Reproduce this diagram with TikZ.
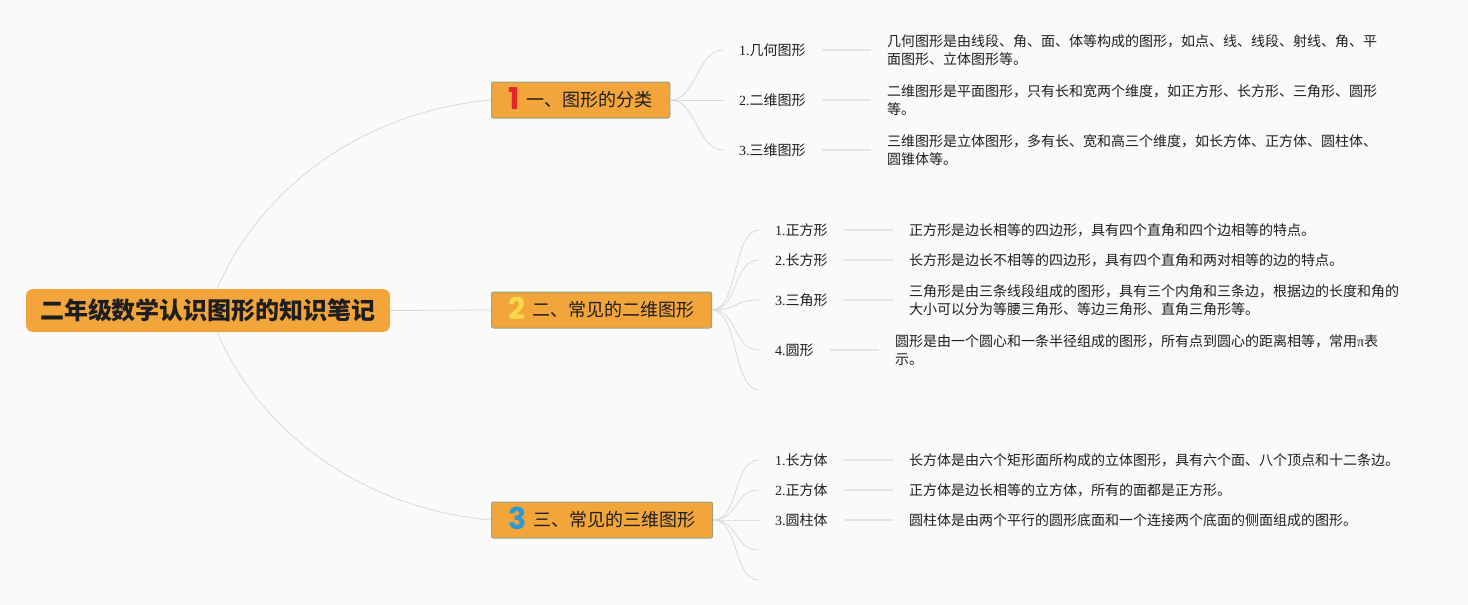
\documentclass[tikz,border=0pt]{standalone}
\usepackage{fontspec}
\setmainfont{Liberation Serif}
\newfontfamily\cjk{Noto Sans CJK SC}
\newfontfamily\numfont{Poppins}
\usetikzlibrary{positioning}
\definecolor{mmBack}{HTML}{FAFAFA}
\definecolor{mmOrange}{HTML}{F2A53A}
\definecolor{mmEdge}{HTML}{93A886}
\definecolor{mmInk}{HTML}{1E1E1E}
\definecolor{mmLine}{HTML}{D9D9D9}
\definecolor{mmStub}{HTML}{E6E6E6}
\definecolor{numRed}{HTML}{E3262B}
\definecolor{numYellow}{HTML}{F6D94A}
\definecolor{numBlue}{HTML}{2C9AD6}
\tikzset{
  rootbox/.style  = {fill=mmOrange, rounded corners=7pt, inner xsep=14pt,
                     minimum height=43pt, text=mmInk,
                     font=\cjk\bfseries\fontsize{24}{28}\selectfont},
  topicbox/.style = {draw=mmEdge, line width=1pt, fill=mmOrange,
                     rounded corners=2pt, anchor=west, minimum height=36pt,
                     inner xsep=17pt, inner ysep=0pt, text=mmInk,
                     font=\cjk\fontsize{18}{22}\selectfont},
  leaf/.style     = {anchor=west, inner xsep=16pt, inner ysep=2pt, text=mmInk,
                     font=\fontsize{14}{18}\selectfont},
  note/.style     = {inner xsep=16pt, inner ysep=0pt, align=left, text=mmInk,
                     font=\cjk\fontsize{14}{18.5}\selectfont},
  link/.style     = {mmLine, line width=0.8pt},
  stub/.style     = {mmStub, line width=1.6pt},
}
\newcommand{\bnum}[2]{\smash{\raisebox{-3pt}{\numfont\bfseries\fontsize{30}{30}\selectfont\color{#1}#2}}\hspace{7pt}}

\begin{document}
\begin{tikzpicture}[x=1pt, y=-1pt]
\useasboundingbox (0,0) rectangle (1468,605);
\fill[mmBack] (0,0) rectangle (1468,605);

% root and main topics
\node[rootbox] (root) at (208,310.5) {二年级数学认识图形的知识笔记};
\node[topicbox] (b1) at (491,100) {\bnum{numRed}{1}一、图形的分类};
\node[topicbox] (b2) at (491,310) {\bnum{numYellow}{2}二、常见的二维图形};
\node[topicbox] (b3) at (491,520) {\bnum{numBlue}{3}三、常见的三维图形};

% topic 1
\node[leaf] (g1) at (723,50)  {1.{\cjk 几何图形}};
\node[leaf] (g2) at (723,100) {2.{\cjk 二维图形}};
\node[leaf] (g3) at (723,150) {3.{\cjk 三维图形}};
\node[note, right=49pt of g1] (g1n) {几何图形是由线段、角、面、体等构成的图形，如点、线、线段、射线、角、平\\面图形、立体图形等。};
\node[note, right=49pt of g2] (g2n) {二维图形是平面图形，只有长和宽两个维度，如正方形、长方形、三角形、圆形\\等。};
\node[note, right=49pt of g3] (g3n) {三维图形是立体图形，多有长、宽和高三个维度，如长方体、正方体、圆柱体、\\圆锥体等。};

% topic 2
\node[leaf] (s1) at (759,230) {1.{\cjk 正方形}};
\node[leaf] (s2) at (759,260) {2.{\cjk 长方形}};
\node[leaf] (s3) at (759,300) {3.{\cjk 三角形}};
\node[leaf] (s4) at (759,350) {4.{\cjk 圆形}};
\coordinate (s5) at (759,390);
\node[note, right=49pt of s1] (s1n) {正方形是边长相等的四边形，具有四个直角和四个边相等的特点。};
\node[note, right=49pt of s2] (s2n) {长方形是边长不相等的四边形，具有四个直角和两对相等的边的特点。};
\node[note, right=49pt of s3] (s3n) {三角形是由三条线段组成的图形，具有三个内角和三条边，根据边的长度和角的\\大小可以分为等腰三角形、等边三角形、直角三角形等。};
\node[note, right=49pt of s4] (s4n) {圆形是由一个圆心和一条半径组成的图形，所有点到圆心的距离相等，常用{\rmfamily π}表\\示。};

% topic 3
\node[leaf] (t1) at (759,460) {1.{\cjk 长方体}};
\node[leaf] (t2) at (759,490) {2.{\cjk 正方体}};
\node[leaf] (t3) at (759,520) {3.{\cjk 圆柱体}};
\coordinate (t4) at (759,550);
\coordinate (t5) at (759,580);
\node[note, right=49pt of t1] (t1n) {长方体是由六个矩形面所构成的立体图形，具有六个面、八个顶点和十二条边。};
\node[note, right=49pt of t2] (t2n) {正方体是边长相等的立方体，所有的面都是正方形。};
\node[note, right=49pt of t3] (t3n) {圆柱体是由两个平行的圆形底面和一个连接两个底面的侧面组成的图形。};

% connectors
\draw[link] ([xshift=9pt]root.north) .. controls +(43,-99) and +(-131,12) .. (b1.west);
\draw[link] (root.east) -- (b2.west);
\draw[link] ([xshift=9pt]root.south) .. controls +(43,99) and +(-131,-12) .. (b3.west);
\foreach \l in {g1,g2,g3}
  \draw[link] (b1.east) .. controls +(26,0) and +(-26,0) .. (\l.west);
\foreach \l in {s1,s2,s3,s4}
  \draw[link] (b2.east) .. controls +(26,0) and +(-26,0) .. (\l.west);
\draw[link] (b2.east) .. controls +(26,0) and +(-26,0) .. (s5);
\foreach \l in {t1,t2,t3}
  \draw[link] (b3.east) .. controls +(26,0) and +(-26,0) .. (\l.west);
\foreach \l in {t4,t5}
  \draw[link] (b3.east) .. controls +(26,0) and +(-26,0) .. (\l);
\foreach \l in {g1,g2,g3,s1,s2,s3,s4,t1,t2,t3}
  \draw[stub] (\l.east) -- (\l n.west);
\end{tikzpicture}
\end{document}
